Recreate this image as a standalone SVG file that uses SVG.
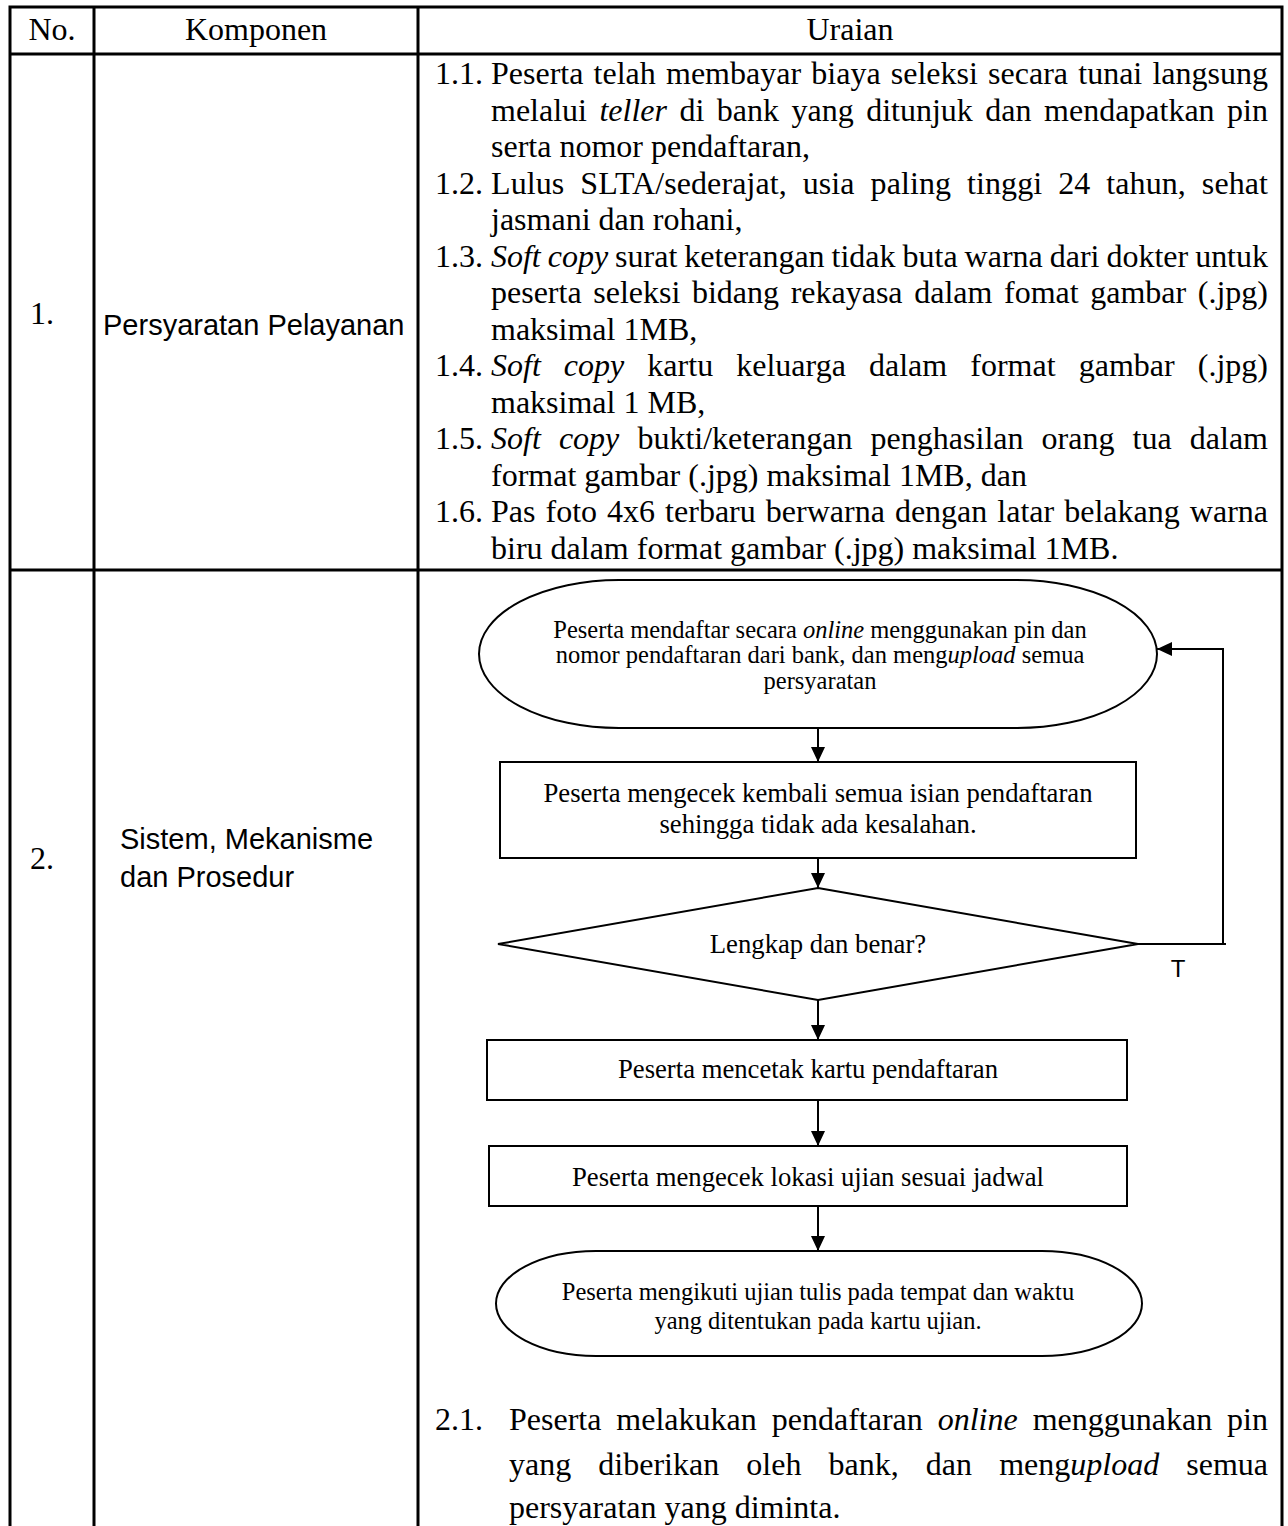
<svg xmlns="http://www.w3.org/2000/svg" width="1288" height="1526" viewBox="0 0 1288 1526">
  <style>
    .grid { stroke:#000; stroke-width:3; fill:none; }
    .shape { stroke:#000; stroke-width:2; fill:#fff; }
    .wire { stroke:#000; stroke-width:2; fill:none; }
    .serif { font-family:"Liberation Serif","Times New Roman",serif; fill:#000; }
    .sans { font-family:"Liberation Sans",Arial,sans-serif; fill:#000; }
    .b { font-size:32px; }
    .s9 { font-size:24.5px; }
    .s10 { font-size:26.7px; }
    .mid { text-anchor:middle; }
    .i { font-style:italic; }
  </style>
  <defs>
    <marker id="arrow" markerUnits="userSpaceOnUse" markerWidth="16" markerHeight="14" refX="15" refY="7" orient="auto">
      <path d="M0,0 L15,7 L0,14 Z" fill="#000"/>
    </marker>
  </defs>

  <rect width="1288" height="1526" fill="#fff"/>

  <!-- table frame -->
  <g id="table" class="grid">
    <path d="M10 1526 V7 H1282 V1526"/>
    <path d="M94 7 V1526 M418 7 V1526"/>
    <path d="M10 54 H1282 M10 570 H1282"/>
  </g>

  <!-- header row -->
  <g id="header" class="serif b mid">
    <text x="52" y="40">No.</text>
    <text x="256" y="40">Komponen</text>
    <text x="850" y="40">Uraian</text>
  </g>

  <!-- row 1: service requirements -->
  <g id="row1-label">
    <text class="serif b" x="30" y="324">1.</text>
    <text class="sans" font-size="29" x="103" y="335">Persyaratan Pelayanan</text>
  </g>
  <g id="row1-items" class="serif b">
    <text x="435" y="84">1.1.</text>
    <text x="491" y="84" textLength="777" word-spacing="2.2">Peserta telah membayar biaya seleksi secara tunai langsung</text>
    <text x="491" y="120.5" textLength="777" word-spacing="4.5">melalui <tspan class="i">teller</tspan> di bank yang ditunjuk dan mendapatkan pin</text>
    <text x="491" y="157">serta nomor pendaftaran,</text>
    <text x="435" y="193.5">1.2.</text>
    <text x="491" y="193.5" textLength="777" word-spacing="7.8">Lulus SLTA/sederajat, usia paling tinggi 24 tahun, sehat</text>
    <text x="491" y="230">jasmani dan rohani,</text>
    <text x="435" y="266.5">1.3.</text>
    <text x="491" y="266.5" textLength="777" word-spacing="-1"><tspan class="i">Soft copy</tspan> surat keterangan tidak buta warna dari dokter untuk</text>
    <text x="491" y="303" textLength="777" word-spacing="3.6">peserta seleksi bidang rekayasa dalam fomat gambar (.jpg)</text>
    <text x="491" y="339.5">maksimal 1MB,</text>
    <text x="435" y="376">1.4.</text>
    <text x="491" y="376" textLength="777" word-spacing="15"><tspan class="i">Soft copy</tspan> kartu keluarga dalam format gambar (.jpg)</text>
    <text x="491" y="412.5">maksimal 1 MB,</text>
    <text x="435" y="449">1.5.</text>
    <text x="491" y="449" textLength="777" word-spacing="10.1"><tspan class="i">Soft copy</tspan> bukti/keterangan penghasilan orang tua dalam</text>
    <text x="491" y="485.5">format gambar (.jpg) maksimal 1MB, dan</text>
    <text x="435" y="522">1.6.</text>
    <text x="491" y="522" textLength="777" word-spacing="2">Pas foto 4x6 terbaru berwarna dengan latar belakang warna</text>
    <text x="491" y="558.5">biru dalam format gambar (.jpg) maksimal 1MB.</text>
  </g>

  <!-- row 2: system, mechanism and procedure -->
  <g id="row2-label">
    <text class="serif b" x="30" y="869">2.</text>
    <text class="sans" font-size="29" x="120" y="849">Sistem, Mekanisme</text>
    <text class="sans" font-size="29" x="120" y="887">dan Prosedur</text>
  </g>

  <!-- flowchart nodes -->
  <g id="start">
    <rect class="shape" x="479" y="580" width="678" height="148" rx="140" ry="74"/>
    <text class="serif s9 mid" x="820" y="638">Peserta mendaftar secara <tspan class="i">online</tspan> menggunakan pin dan</text>
    <text class="serif s9 mid" x="820" y="663">nomor pendaftaran dari bank, dan meng<tspan class="i">upload</tspan> semua</text>
    <text class="serif s9 mid" x="820" y="689">persyaratan</text>
  </g>
  <g id="check-entries">
    <rect class="shape" x="500" y="762" width="636" height="96"/>
    <text class="serif s10 mid" x="818" y="802">Peserta mengecek kembali semua isian pendaftaran</text>
    <text class="serif s10 mid" x="818" y="833">sehingga tidak ada kesalahan.</text>
  </g>
  <g id="decision">
    <polygon class="shape" points="818,888 1138,944 818,1000 498,944"/>
    <text class="serif s10 mid" x="818" y="953">Lengkap dan benar?</text>
  </g>
  <g id="print-card">
    <rect class="shape" x="487" y="1040" width="640" height="60"/>
    <text class="serif s10 mid" x="808" y="1078">Peserta mencetak kartu pendaftaran</text>
  </g>
  <g id="check-location">
    <rect class="shape" x="489" y="1146" width="638" height="60"/>
    <text class="serif s10 mid" x="808" y="1186">Peserta mengecek lokasi ujian sesuai jadwal</text>
  </g>
  <g id="end">
    <rect class="shape" x="496" y="1251" width="646" height="105" rx="100" ry="52.5"/>
    <text class="serif s9 mid" x="818" y="1300">Peserta mengikuti ujian tulis pada tempat dan waktu</text>
    <text class="serif s9 mid" x="818" y="1329">yang ditentukan pada kartu ujian.</text>
  </g>

  <!-- connectors -->
  <g id="connectors" class="wire">
    <path d="M818 728 V762" marker-end="url(#arrow)"/>
    <path d="M818 858 V888" marker-end="url(#arrow)"/>
    <path d="M818 1000 V1040" marker-end="url(#arrow)"/>
    <path d="M818 1100 V1146" marker-end="url(#arrow)"/>
    <path d="M818 1206 V1251" marker-end="url(#arrow)"/>
    <path d="M1138 944 H1226 M1223 944 V649 H1157" marker-end="url(#arrow)"/>
  </g>
  <text id="no-label" class="sans mid" font-size="24" x="1178" y="977">T</text>

  <!-- procedure notes -->
  <g id="row2-items" class="serif b">
    <text x="435" y="1430">2.1.</text>
    <text x="509" y="1430" textLength="759" word-spacing="6.9">Peserta melakukan pendaftaran <tspan class="i">online</tspan> menggunakan pin</text>
    <text x="509" y="1475" textLength="759" word-spacing="19.1">yang diberikan oleh bank, dan meng<tspan class="i">upload</tspan> semua</text>
    <text x="509" y="1518">persyaratan yang diminta.</text>
  </g>
</svg>
